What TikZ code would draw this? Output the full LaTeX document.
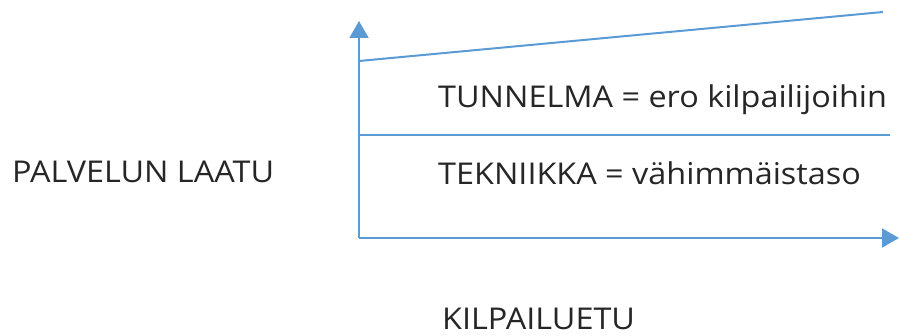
\documentclass[tikz,border=0pt]{standalone}
\usepackage{fontspec}
\setmainfont{Open Sans}[FakeStretch=1.08]
\usetikzlibrary{arrows.meta}
\definecolor{axisblue}{HTML}{5B9BD5}
\begin{document}
\begin{tikzpicture}[x=1pt,y=-1pt,
  axisline/.style={draw=axisblue,line width=2pt},
  axisarrow/.style={axisline,-{Triangle[width=19pt,length=17pt]}},
  label/.style={font=\fontsize{30}{36}\selectfont,inner sep=0pt,anchor=base west,text=black!85}]
  \useasboundingbox (0,0) rectangle (899,336);
  % axes corner and ends
  \coordinate (O) at (359,238);
  \coordinate (ytop) at (359,21);
  \coordinate (xend) at (899,238);
  % quality levels
  \coordinate (slopeA) at (359,61);
  \coordinate (slopeB) at (883,12);
  \coordinate (midA) at (359,135);
  \coordinate (midB) at (890,135);
  \draw[axisarrow] (O) -- (ytop);
  \draw[axisarrow] (O) -- (xend);
  \draw[axisline] (slopeA) -- (slopeB);
  \draw[axisline] (midA) -- (midB);
  \node[label] (tun) at (438,108) {TUNNELMA = ero kilpailijoihin};
  \node[label] (tek) at (438,185) {TEKNIIKKA = vähimmäistaso};
  \node[label] (pal) at (12,183) {PALVELUN LAATU};
  \node[label] (kil) at (442,330) {KILPAILUETU};
\end{tikzpicture}
\end{document}
